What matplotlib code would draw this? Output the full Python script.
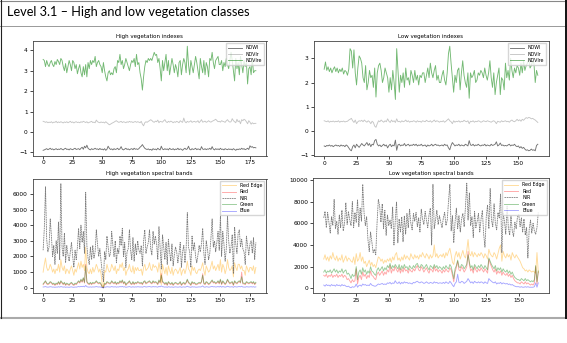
import matplotlib
matplotlib.use('Agg')
import matplotlib.pyplot as plt
from matplotlib.lines import Line2D
import numpy as np

# ---- high vegetation indexes (181 samples) ----
high_ndvire = [
    3.55, 3.50, 3.20, 3.50, 3.30, 3.20, 3.40, 3.50, 3.30, 3.20,
    3.45, 3.30, 3.55, 3.45, 3.30, 3.60, 3.50, 3.20, 3.00, 3.35,
    2.90, 3.20, 3.50, 3.30, 3.00, 3.50, 3.40, 3.10, 3.30, 2.85,
    3.10, 3.30, 2.90, 2.70, 3.20, 2.80, 3.30, 2.70, 3.40, 3.10,
    3.50, 3.30, 3.50, 3.40, 3.70, 3.20, 3.40, 3.50, 3.30, 3.20,
    2.90, 3.40, 3.00, 2.70, 2.50, 2.90, 3.00, 2.80, 2.90, 2.80,
    3.10, 3.20, 2.90, 3.50, 3.40, 3.80, 3.30, 3.50, 3.10, 3.30,
    3.60, 3.40, 3.20, 3.00, 3.30, 3.50, 3.40, 3.60, 3.20, 3.80,
    3.30, 3.40, 2.90, 2.60, 2.05, 2.70, 3.20, 3.50, 3.40, 3.60,
    3.50, 3.60, 3.50, 3.70, 3.90, 3.75, 3.80, 3.40, 3.60, 3.10,
    2.50, 3.50, 3.00, 3.40, 3.80, 3.00, 3.50, 2.80, 3.20, 3.60,
    3.30, 2.90, 3.30, 3.10, 2.70, 3.40, 3.50, 2.80, 3.30, 3.60,
    3.40, 2.90, 4.20, 3.30, 2.80, 3.50, 3.20, 2.90, 3.30, 3.70,
    3.40, 3.00, 2.60, 3.60, 3.20, 2.90, 3.50, 2.80, 3.40, 3.20,
    2.70, 3.60, 3.50, 3.90, 3.40, 3.10, 3.50, 3.60, 3.70, 3.30,
    3.30, 3.50, 3.00, 3.40, 3.20, 3.60, 3.30, 3.10, 3.50, 3.90,
    3.50, 3.00, 2.50, 3.60, 3.10, 3.40, 2.80, 3.70, 3.30, 2.90,
    3.50, 3.20, 3.40, 2.35, 3.10, 3.20, 2.80, 3.60, 2.90, 3.00,
    3.00,
]
high_ndvir = [
    .52, .50, .47, .50, .45, .48, .46, .50, .44, .48,
    .47, .52, .45, .49, .46, .50, .47, .44, .49, .46,
    .50, .45, .48, .52, .46, .49, .44, .48, .50, .46,
    .48, .45, .50, .47, .52, .49, .46, .50, .44, .47,
    .49, .52, .46, .48, .45, .58, .50, .47, .45, .49,
    .46, .48, .44, .50, .45, .40, .35, .38, .42, .45,
    .48, .52, .55, .50, .47, .49, .52, .46, .50, .48,
    .45, .50, .47, .52, .48, .50, .46, .49, .51, .47,
    .50, .48, .45, .52, .38, .30, .45, .50, .47, .52,
    .55, .60, .56, .50, .47, .53, .50, .58, .45, .52,
    .50, .48, .55, .60, .50, .46, .52, .48, .53, .50,
    .45, .50, .47, .52, .49, .45, .55, .50, .47, .68,
    .50, .45, .52, .48, .50, .55, .47, .50, .52, .48,
    .50, .55, .45, .52, .60, .48, .50, .53, .47, .50,
    .55, .50, .48, .52, .55, .58, .62, .56, .50, .52,
    .48, .55, .52, .50, .47, .55, .60, .52, .48, .50,
    .65, .55, .50, .45, .62, .50, .55, .40, .60, .55,
    .62, .58, .50, .40, .55, .48, .38, .45, .40, .42,
    .42,
]
high_ndwi = [
    -.90, -.88, -.85, -.82, -.87, -.84, -.80, -.86, -.83, -.88,
    -.85, -.82, -.87, -.84, -.86, -.81, -.85, -.88, -.83, -.80,
    -.86, -.84, -.88, -.82, -.85, -.87, -.83, -.80, -.86, -.84,
    -.82, -.87, -.80, -.75, -.85, -.70, -.78, -.65, -.80, -.85,
    -.88, -.82, -.86, -.84, -.80, -.85, -.83, -.87, -.81, -.86,
    -.84, -.88, -.82, -.90, -.85, -.70, -.80, -.86, -.83, -.88,
    -.82, -.86, -.84, -.80, -.87, -.83, -.72, -.85, -.88, -.84,
    -.80, -.86, -.83, -.88, -.84, -.82, -.87, -.80, -.85, -.83,
    -.86, -.82, -.75, -.70, -.62, -.72, -.80, -.84, -.86, -.83,
    -.88, -.85, -.90, -.82, -.86, -.84, -.88, -.80, -.85, -.88,
    -.70, -.84, -.87, -.82, -.86, -.83, -.88, -.80, -.85, -.86,
    -.82, -.88, -.84, -.86, -.80, -.87, -.83, -.85, -.90, -.84,
    -.80, -.86, -.83, -.70, -.85, -.88, -.82, -.86, -.84, -.80,
    -.87, -.83, -.85, -.88, -.72, -.84, -.86, -.82, -.87, -.83,
    -.85, -.80, -.86, -.72, -.84, -.88, -.82, -.86, -.83, -.87,
    -.80, -.86, -.84, -.88, -.82, -.85, -.87, -.83, -.86, -.84,
    -.88, -.82, -.86, -.90, -.84, -.87, -.83, -.86, -.80, -.85,
    -.82, -.87, -.84, -.80, -.86, -.68, -.75, -.72, -.78, -.76,
    -.78,
]

# ---- low vegetation indexes (166 samples) ----
low_ndvire = [
    2.55, 2.85, 2.50, 2.65, 2.45, 2.60, 2.40, 2.55, 2.65, 2.45,
    2.60, 2.40, 2.55, 2.45, 2.60, 2.35, 2.50, 2.45, 2.30, 2.55,
    3.40, 3.30, 2.60, 3.35, 2.40, 1.90, 2.60, 3.10, 3.00, 2.80,
    2.20, 2.00, 2.70, 1.70, 2.00, 2.50, 2.20, 2.30, 1.80, 2.60,
    1.40, 2.40, 2.70, 2.80, 2.50, 2.00, 2.20, 2.60, 2.40, 2.20,
    1.60, 2.20, 1.70, 2.50, 2.00, 1.30, 3.40, 2.50, 1.60, 2.30,
    2.00, 2.40, 1.80, 2.60, 2.10, 2.20, 1.90, 2.50, 2.30, 2.00,
    2.50, 2.10, 2.30, 1.90, 2.30, 2.20, 2.40, 2.40, 2.00, 2.30,
    2.60, 2.20, 2.80, 2.40, 2.20, 2.50, 2.70, 2.10, 2.30, 2.00,
    2.00, 2.30, 2.50, 2.10, 1.90, 2.40, 3.20, 3.50, 2.80, 2.20,
    1.60, 2.30, 2.00, 2.50, 2.60, 1.70, 2.40, 2.90, 2.30, 2.00,
    1.80, 2.40, 1.35, 2.40, 2.20, 2.30, 2.50, 2.00, 2.10, 2.40,
    2.30, 2.50, 2.40, 2.20, 2.60, 2.30, 2.10, 2.40, 2.90, 2.20,
    1.80, 2.40, 1.50, 2.00, 2.30, 2.60, 1.50, 2.20, 2.10, 1.70,
    2.80, 2.20, 2.50, 2.10, 3.00, 2.50, 2.20, 2.60, 2.40, 2.70,
    2.60, 2.30, 2.80, 2.40, 2.90, 2.50, 2.70, 2.80, 3.00, 2.60,
    2.70, 2.90, 2.80, 2.00, 2.50, 2.30,
]
low_ndvir = [
    .42, .40, .38, .42, .36, .40, .38, .41, .37, .40,
    .38, .42, .36, .40, .38, .41, .37, .39, .40, .45,
    .48, .52, .42, .35, .45, .30, .38, .42, .40, .44,
    .38, .45, .40, .36, .42, .38, .30, .40, .35, .20,
    .15, .30, .42, .38, .45, .40, .36, .42, .38, .50,
    .40, .35, .45, .38, .42, .35, .50, .38, .40, .36,
    .42, .38, .40, .45, .38, .42, .36, .40, .38, .42,
    .40, .36, .42, .38, .40, .36, .42, .40, .38, .44,
    .40, .38, .42, .36, .40, .45, .38, .42, .40, .36,
    .40, .38, .42, .36, .40, .45, .50, .42, .38, .30,
    .42, .36, .40, .38, .42, .36, .40, .38, .44, .40,
    .38, .42, .30, .40, .38, .42, .36, .40, .38, .42,
    .40, .36, .38, .42, .40, .38, .42, .40, .38, .36,
    .40, .42, .38, .30, .40, .38, .36, .42, .38, .40,
    .42, .38, .40, .36, .42, .45, .40, .38, .42, .48,
    .42, .46, .40, .48, .44, .50, .55, .52, .56, .54,
    .50, .52, .48, .45, .40, .35,
]
low_ndwi = [
    -.62, -.65, -.60, -.62, -.58, -.63, -.60, -.65, -.61, -.58,
    -.62, -.60, -.64, -.58, -.62, -.60, -.65, -.58, -.62, -.70,
    -.78, -.82, -.65, -.58, -.70, -.55, -.62, -.68, -.60, -.52,
    -.58, -.62, -.55, -.48, -.60, -.52, -.65, -.55, -.58, -.40,
    -.35, -.55, -.62, -.58, -.65, -.60, -.55, -.62, -.58, -.70,
    -.60, -.55, -.65, -.58, -.62, -.38, -.80, -.58, -.55, -.62,
    -.58, -.60, -.52, -.62, -.58, -.55, -.62, -.58, -.60, -.55,
    -.60, -.55, -.62, -.58, -.60, -.55, -.62, -.60, -.58, -.65,
    -.58, -.62, -.60, -.55, -.62, -.58, -.55, -.60, -.58, -.62,
    -.60, -.58, -.62, -.55, -.60, -.58, -.70, -.78, -.60, -.48,
    -.55, -.62, -.58, -.60, -.55, -.62, -.58, -.60, -.62, -.55,
    -.58, -.62, -.40, -.58, -.60, -.55, -.62, -.58, -.60, -.55,
    -.60, -.62, -.58, -.60, -.55, -.62, -.58, -.60, -.62, -.55,
    -.60, -.58, -.55, -.45, -.62, -.58, -.50, -.60, -.58, -.62,
    -.60, -.62, -.58, -.55, -.62, -.58, -.60, -.55, -.62, -.65,
    -.62, -.70, -.65, -.72, -.68, -.75, -.80, -.78, -.82, -.80,
    -.75, -.80, -.78, -.82, -.60, -.55,
]

# ---- high vegetation spectral bands (181 samples) ----
high_rededge = [
    1000, 1500, 1900, 1300, 1100, 1200, 1500, 1300, 1000, 1200,
    900, 1200, 1100, 1500, 1000, 1800, 1300, 1100, 1400, 900,
    1200, 1100, 900, 1200, 1400, 1100, 800, 1200, 1000, 1300,
    1600, 1200, 1700, 1300, 1500, 1100, 2600, 1300, 1000, 900,
    1200, 900, 1300, 1000, 1200, 1500, 1300, 1000, 1200, 900,
    200, 0, 1100, 1000, 1500, 1200, 1000, 1100, 1500, 1300,
    1100, 1400, 900, 1200, 1100, 1500, 1300, 1600, 1100, 1300,
    800, 1100, 1200, 1500, 1100, 1000, 1400, 900, 1300, 1100,
    1300, 1100, 1100, 1200, 800, 1300, 1500, 1100, 1200, 1300,
    1600, 1200, 1100, 1500, 1300, 1400, 1300, 1000, 1600, 1200,
    200, 1500, 1200, 900, 1300, 800, 1400, 1100, 900, 1300,
    800, 1100, 1200, 1100, 900, 1100, 1300, 800, 1100, 1200,
    900, 1200, 1700, 1200, 1100, 800, 1400, 1100, 1300, 1000,
    900, 1100, 1200, 1100, 1300, 1600, 1100, 800, 1400, 1200,
    1000, 1100, 1400, 1700, 1200, 1400, 1100, 1300, 1500, 1100,
    1800, 1000, 1500, 1300, 900, 1200, 1800, 1300, 1100, 1200,
    1400, 700, 1600, 1300, 1100, 1500, 1500, 1200, 1400, 1100,
    1100, 800, 1400, 1200, 1000, 1300, 1300, 1100, 1400, 900,
    1300,
]
high_red = [
    200, 300, 400, 250, 200, 250, 350, 300, 200, 250,
    150, 250, 200, 350, 200, 400, 300, 200, 300, 150,
    250, 200, 150, 250, 300, 200, 150, 250, 200, 300,
    400, 300, 500, 350, 600, 300, 1500, 350, 250, 200,
    300, 200, 300, 250, 300, 400, 300, 250, 300, 200,
    50, 0, 250, 200, 350, 300, 250, 250, 400, 300,
    250, 350, 200, 300, 250, 400, 300, 450, 250, 350,
    150, 250, 300, 400, 250, 200, 350, 200, 300, 250,
    350, 300, 250, 300, 200, 350, 400, 250, 300, 350,
    400, 300, 250, 400, 300, 350, 300, 200, 450, 300,
    900, 350, 300, 200, 300, 150, 350, 250, 200, 300,
    150, 250, 300, 250, 200, 250, 350, 150, 250, 300,
    200, 300, 500, 300, 250, 150, 350, 250, 300, 200,
    200, 250, 300, 250, 350, 900, 250, 200, 350, 300,
    200, 250, 350, 450, 300, 350, 250, 300, 400, 250,
    500, 200, 400, 300, 200, 300, 500, 350, 250, 300,
    350, 150, 400, 300, 250, 350, 400, 300, 1000, 250,
    250, 200, 350, 300, 250, 300, 350, 250, 350, 200,
    300,
]
high_nir = [
    2400, 3800, 6450, 3100, 2300, 2600, 4400, 3300, 2000, 2700,
    1500, 3000, 2200, 4200, 1800, 6650, 2600, 2000, 3500, 1600,
    2700, 2100, 1700, 2300, 2900, 2000, 1300, 2400, 1800, 2600,
    3800, 2500, 4000, 2900, 3600, 2200, 6100, 2700, 1900, 1500,
    2600, 1800, 2700, 1900, 2300, 3700, 2800, 2000, 2500, 1700,
    1000, 400, 2300, 1800, 3300, 2600, 2000, 2200, 3600, 2700,
    2000, 3000, 1600, 2500, 2200, 3300, 2700, 3800, 2000, 2900,
    1300, 2300, 2500, 3700, 2400, 1800, 3200, 1700, 2800, 2100,
    3000, 2400, 2200, 2700, 1400, 3000, 3700, 2200, 2600, 2900,
    3700, 2500, 2100, 3600, 2800, 3300, 2800, 1800, 3900, 2600,
    1200, 3400, 2600, 1800, 2900, 1500, 3100, 2300, 1700, 2800,
    1400, 2100, 2600, 2300, 1600, 2200, 2900, 1300, 2300, 2700,
    1600, 2500, 4800, 2600, 2300, 1300, 3300, 2400, 2900, 2000,
    1600, 2100, 2700, 2300, 2800, 3800, 2200, 1500, 3000, 2500,
    1800, 2200, 3200, 4400, 2600, 3000, 2300, 2900, 3600, 2400,
    4600, 2000, 3600, 2800, 1700, 2500, 4600, 3000, 2200, 2600,
    3400, 900, 3900, 2800, 2200, 3500, 3700, 2600, 3100, 2500,
    2300, 1500, 3300, 2700, 2100, 2800, 3000, 2200, 3200, 1800,
    2900,
]
high_green = [
    250, 350, 450, 300, 250, 300, 400, 350, 250, 300,
    200, 300, 250, 400, 250, 450, 350, 250, 350, 200,
    300, 250, 200, 300, 350, 250, 200, 300, 250, 350,
    450, 350, 550, 400, 650, 350, 1400, 400, 300, 250,
    350, 250, 350, 300, 350, 450, 350, 300, 350, 250,
    50, 0, 300, 250, 400, 350, 300, 300, 450, 350,
    300, 400, 250, 350, 300, 450, 350, 500, 300, 400,
    200, 300, 350, 450, 300, 250, 400, 250, 350, 300,
    400, 350, 300, 350, 250, 400, 450, 300, 350, 400,
    450, 350, 300, 450, 350, 400, 350, 250, 500, 350,
    800, 400, 350, 250, 350, 200, 400, 300, 250, 350,
    200, 300, 350, 300, 250, 300, 400, 200, 300, 350,
    250, 350, 550, 350, 300, 200, 400, 300, 350, 250,
    250, 300, 350, 300, 400, 800, 300, 250, 400, 350,
    250, 300, 400, 500, 350, 400, 300, 350, 450, 300,
    550, 250, 450, 350, 250, 350, 550, 400, 300, 350,
    400, 200, 450, 350, 300, 400, 450, 350, 700, 300,
    300, 250, 400, 350, 300, 350, 400, 300, 400, 250,
    350,
]
high_blue = [
    50, 60, 80, 50, 40, 50, 70, 60, 40, 50,
    30, 50, 40, 70, 40, 80, 60, 40, 60, 30,
    50, 40, 30, 50, 60, 40, 30, 50, 40, 60,
    80, 60, 90, 70, 100, 60, 150, 70, 50, 40,
    60, 40, 60, 50, 60, 80, 60, 50, 60, 40,
    10, 0, 50, 40, 70, 60, 50, 50, 80, 60,
    50, 70, 40, 60, 50, 80, 60, 90, 50, 70,
    30, 50, 60, 80, 50, 40, 70, 40, 60, 50,
    70, 60, 50, 60, 40, 70, 80, 50, 60, 70,
    80, 60, 50, 80, 60, 70, 60, 40, 90, 60,
    120, 70, 60, 40, 60, 30, 70, 50, 40, 60,
    30, 50, 60, 50, 40, 50, 70, 30, 50, 60,
    40, 60, 100, 60, 50, 30, 70, 50, 60, 40,
    40, 50, 60, 50, 70, 120, 50, 40, 70, 60,
    40, 50, 70, 90, 60, 70, 50, 60, 80, 50,
    100, 40, 80, 60, 40, 60, 100, 70, 50, 60,
    70, 30, 80, 60, 50, 70, 80, 60, 100, 50,
    50, 40, 70, 60, 50, 60, 70, 50, 70, 40,
    60,
]

# ---- low vegetation spectral bands (166 samples) ----
low_rededge = [
    2700, 3100, 2600, 2900, 2500, 3000, 2700, 3300, 2800, 2600,
    3000, 2500, 2800, 2600, 3100, 2400, 2700, 3000, 2500, 2800,
    2700, 2500, 2400, 2900, 2200, 3200, 2500, 2700, 3300, 2500,
    2900, 2300, 2500, 2000, 2300, 2600, 2100, 2400, 2000, 2200,
    1900, 2400, 2900, 2800, 2500, 2700, 2300, 2600, 2400, 2700,
    2500, 2800, 2400, 2900, 2600, 3100, 3300, 2600, 2800, 2500,
    2900, 2600, 3100, 2700, 3000, 2800, 2600, 3200, 2900, 2700,
    3100, 2800, 3000, 2700, 3100, 2900, 3300, 3000, 2800, 3200,
    3000, 2700, 3100, 2800, 3000, 4000, 2900, 3200, 2800, 3000,
    3100, 2900, 3200, 2800, 3300, 3000, 3400, 3700, 3100, 2400,
    2200, 3000, 3400, 2900, 3300, 2700, 3100, 3500, 3000, 2800,
    3500, 4500, 3200, 3000, 3400, 2900, 3300, 3100, 2900, 3200,
    3000, 3300, 3100, 2800, 3200, 3000, 2700, 3600, 3200, 3000,
    2900, 3300, 3100, 2700, 3200, 3700, 4000, 2500, 3400, 3000,
    2800, 3200, 2900, 3100, 2600, 3300, 3000, 2800, 3100, 2900,
    2700, 2500, 2200, 1900, 1800, 1600, 1700, 1500, 1700, 1600,
    1500, 1600, 1500, 1400, 3300, 1500,
]
low_red = [
    1200, 1100, 1300, 1000, 1200, 1100, 1300, 1000, 1200, 1100,
    1300, 1000, 1200, 1100, 1300, 1000, 1200, 1100, 800, 900,
    700, 500, 800, 600, 700, 1800, 400, 1000, 1200, 800,
    1500, 1100, 1300, 900, 1200, 1000, 1600, 1200, 1100, 900,
    800, 1300, 1500, 1200, 1400, 1600, 1200, 1500, 1300, 1700,
    1500, 2100, 1400, 1800, 1600, 2000, 1700, 1500, 1900, 1400,
    1800, 1500, 1900, 1600, 1700, 1400, 1800, 1600, 1500, 1800,
    1600, 1900, 2100, 1700, 1600, 2000, 1800, 1500, 1700, 1900,
    1600, 1400, 1800, 1700, 1500, 2000, 1600, 1800, 1500, 1700,
    1600, 1400, 1700, 1500, 1800, 1600, 1500, 1900, 1700, 1200,
    600, 1500, 1900, 2500, 1700, 1600, 2000, 1800, 1500, 1700,
    2000, 3400, 2200, 1600, 1800, 1400, 2000, 1700, 1500, 1800,
    1600, 1900, 1700, 1500, 1800, 1600, 1400, 2700, 2300, 2000,
    1700, 1500, 1800, 1300, 1600, 1400, 1600, 1200, 1500, 1300,
    1200, 1400, 1100, 1300, 1000, 1200, 900, 700, 600, 500,
    500, 400, 600, 500, 400, 600, 400, 500, 400, 300,
    400, 300, 500, 2000, 400, 1500,
]
low_nir = [
    6500, 7100, 5600, 7000, 6100, 5100, 6600, 5800, 8200, 5500,
    6200, 5000, 6800, 5600, 7200, 5300, 6000, 7900, 5900, 7100,
    6300, 5800, 8000, 5600, 7000, 6100, 8200, 5700, 7400, 6200,
    9600, 7000, 5800, 6600, 4500, 3400, 5200, 4300, 3300, 3600,
    3100, 6000, 8200, 7600, 6100, 7800, 5500, 7200, 4900, 6800,
    5800, 6300, 5500, 7500, 4000, 6200, 8000, 4200, 6400, 5200,
    6600, 4300, 6700, 5000, 6900, 5600, 7300, 6000, 5400, 6900,
    6200, 7000, 5700, 6500, 5200, 7300, 6400, 5900, 7100, 6300,
    5600, 6800, 7400, 4000, 9600, 5500, 6300, 7200, 5900, 6700,
    6100, 5600, 6500, 7000, 5800, 6300, 8100, 9600, 5300, 6700,
    4200, 6100, 7400, 5500, 6700, 5200, 6400, 6900, 5700, 7500,
    9700, 6300, 8800, 5800, 6600, 4700, 7100, 5600, 6200, 6900,
    5200, 6400, 7200, 5000, 3800, 6600, 7700, 5500, 9200, 6300,
    5700, 7800, 6000, 5400, 7000, 6500, 8700, 3300, 6900, 6200,
    5000, 7600, 5600, 4900, 6700, 5300, 4800, 6100, 5500, 6600,
    6800, 5700, 6500, 5200, 6400, 4900, 5600, 2800, 5400, 6300,
    5100, 6000, 5300, 5000, 5600, 7000,
]
low_green = [
    1500, 1700, 1400, 1600, 1500, 1700, 1400, 1600, 1800, 1500,
    1700, 1400, 1600, 1500, 1800, 1400, 1600, 1700, 1300, 1400,
    1200, 900, 1300, 1100, 1200, 2000, 800, 1500, 1700, 1300,
    1900, 1500, 1700, 1300, 1600, 1400, 2000, 1600, 1500, 1300,
    1200, 1700, 1900, 1600, 1800, 2000, 1600, 1900, 1700, 2100,
    1900, 2300, 1800, 2100, 1900, 2200, 2000, 1800, 2200, 1700,
    2100, 1800, 2200, 1900, 2000, 1700, 2100, 1900, 1800, 2100,
    1900, 2200, 2300, 2000, 1900, 2200, 2100, 1800, 2000, 2200,
    1900, 1700, 2100, 2000, 1800, 2200, 1900, 2100, 1800, 2000,
    1900, 1700, 2000, 1800, 2100, 1900, 1800, 2200, 2000, 1500,
    900, 1800, 2100, 2600, 2000, 1900, 2200, 2100, 1800, 2000,
    2200, 3100, 2400, 1900, 2100, 1700, 2200, 2000, 1800, 2100,
    1900, 2200, 2000, 1800, 2100, 1900, 1700, 2800, 2500, 2200,
    2000, 1800, 2100, 1600, 1900, 1700, 1900, 1500, 1800, 1600,
    1500, 1700, 1400, 1600, 1300, 1500, 1200, 1000, 900, 800,
    800, 700, 900, 800, 700, 900, 700, 800, 700, 600,
    700, 600, 800, 2100, 600, 1600,
]
low_blue = [
    300, 200, 350, 250, 300, 200, 350, 250, 300, 200,
    350, 250, 300, 200, 350, 250, 300, 200, 150, 200,
    100, 50, 150, 100, 150, 400, 100, 250, 300, 200,
    400, 300, 350, 250, 300, 250, 450, 300, 250, 200,
    200, 300, 400, 350, 400, 450, 350, 400, 350, 500,
    450, 550, 400, 500, 450, 700, 500, 450, 600, 400,
    550, 450, 600, 500, 550, 450, 500, 450, 400, 550,
    500, 600, 650, 550, 500, 600, 550, 450, 500, 600,
    500, 450, 550, 500, 450, 600, 500, 550, 450, 500,
    500, 450, 550, 450, 600, 500, 450, 650, 500, 300,
    150, 450, 600, 1300, 550, 500, 650, 600, 450, 550,
    650, 900, 700, 500, 600, 450, 650, 550, 500, 600,
    500, 600, 550, 450, 600, 500, 450, 900, 750, 650,
    550, 500, 600, 400, 500, 450, 550, 400, 500, 450,
    400, 450, 350, 400, 300, 350, 250, 200, 150, 150,
    150, 100, 150, 100, 100, 150, 100, 150, 100, 100,
    100, 100, 150, 500, 100, 500,
]

W, H = 567, 343
fig = plt.figure(figsize=(W / 100, H / 100), dpi=100)
fig.patch.set_facecolor('white')


def box(l, t, r, b):
    # pixel box -> figure fraction rect
    return [l / W, 1 - b / H, (r - l) / W, (b - t) / H]


def style(ax, title):
    ax.set_title(title, fontsize=4, pad=2.5)
    ax.tick_params(labelsize=4.2, length=2, width=0.5, pad=1.5)
    for s in ax.spines.values():
        s.set_linewidth(0.6)
        s.set_color('#444444')
    ax.legend(loc='upper right', fontsize=3.4, handlelength=3, labelspacing=0.3,
              borderpad=0.4, framealpha=0.8, edgecolor='#cccccc', fancybox=False)


def idx_plot(rect, ndwi, ndvir, ndvire, title):
    ax = fig.add_axes(rect)
    ax.plot(np.arange(len(ndwi)), ndwi, color='black', alpha=0.55, lw=0.65, label='NDWI')
    ax.plot(np.arange(len(ndvir)), ndvir, color='gray', alpha=0.45, lw=0.65, label='NDVIr')
    ax.plot(np.arange(len(ndvire)), ndvire, color='green', alpha=0.55, lw=0.65, label='NDVIre')
    style(ax, title)
    return ax


def band_plot(rect, rededge, red, nir, green, blue, title):
    ax = fig.add_axes(rect)
    ax.plot(np.arange(len(rededge)), rededge, color='orange', alpha=0.4, lw=0.65, label='Red Edge')
    ax.plot(np.arange(len(red)), red, color='red', alpha=0.35, lw=0.65, label='Red')
    ax.plot(np.arange(len(nir)), nir, color='#555555', alpha=0.75, lw=0.6,
            ls=(0, (2, 0.8)), label='NIR')
    ax.plot(np.arange(len(green)), green, color='green', alpha=0.4, lw=0.65, label='Green')
    ax.plot(np.arange(len(blue)), blue, color='blue', alpha=0.35, lw=0.65, label='Blue')
    style(ax, title)
    return ax


idx_plot(box(32.5, 41, 266.5, 155.5), high_ndwi, high_ndvir, high_ndvire, 'High vegetation indexes')
idx_plot(box(313.5, 41, 548.5, 156), low_ndwi, low_ndvir, low_ndvire, 'Low vegetation indexes')
band_plot(box(32.5, 178.5, 266.5, 293), high_rededge, high_red, high_nir, high_green, high_blue,
          'High vegetation spectral bands')
band_plot(box(313, 178, 549, 293), low_rededge, low_red, low_nir, low_green, low_blue,
          'Low vegetation spectral bands')


# slide frame and heading
def hline(y, x0, x1, c, lw):
    fig.add_artist(Line2D([x0 / W, x1 / W], [1 - y / H, 1 - y / H], color=c, lw=lw))


def vline(x, y0, y1, c, lw):
    fig.add_artist(Line2D([x / W, x / W], [1 - y0 / H, 1 - y1 / H], color=c, lw=lw))


hline(0.5, 0, W, '#888888', 0.8)
hline(25.5, 0, W, '#999999', 0.7)
hline(317.5, 0, W, '#aaaaaa', 1.5)
vline(0.5, 0, 318, '#222222', 0.8)
vline(565.8, 0, 318, '#111111', 1.4)

fig.text(7 / W, 1 - 12 / H, 'Level 3.1 \u2013 High and low vegetation classes',
         fontsize=9.2, family=['Lato', 'DejaVu Sans'], va='center', ha='left', color='black')

fig.savefig('out.png', dpi=100, facecolor='white')
